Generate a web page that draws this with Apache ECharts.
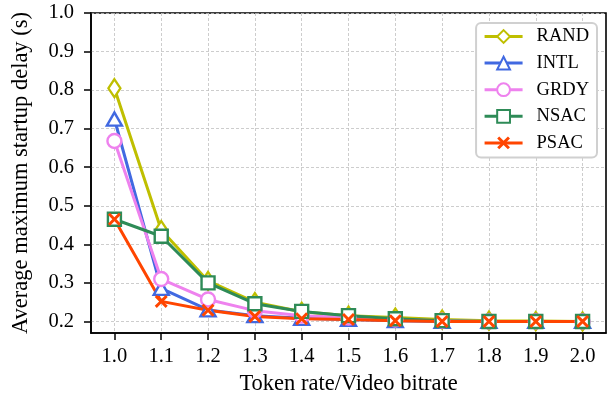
<!DOCTYPE html>
<html>
<head>
<meta charset="utf-8">
<script src="https://cdn.jsdelivr.net/npm/echarts@6/dist/echarts.min.js"></script>
<style>
  html, body { margin: 0; padding: 0; background: #fff; }
  #chart { width: 615px; height: 402px; }
</style>
</head>
<body>
<div id="chart"></div>
<script>
// Ratio of token rate to video bitrate (x) and tick values
const ratios = [1.0, 1.1, 1.2, 1.3, 1.4, 1.5, 1.6, 1.7, 1.8, 1.9, 2.0];
const xTicks = [1.0, 1.1, 1.2, 1.3, 1.4, 1.5, 1.6, 1.7, 1.8, 1.9, 2.0];
const yTicks = [0.2, 0.3, 0.4, 0.5, 0.6, 0.7, 0.8, 0.9, 1.0];

// Average maximum startup delay (s) per scheme
const randDelay = [0.805, 0.437, 0.305, 0.250, 0.225, 0.215, 0.210, 0.205, 0.202, 0.201, 0.200];
const intlDelay = [0.725, 0.286, 0.230, 0.215, 0.208, 0.205, 0.202, 0.200, 0.200, 0.200, 0.200];
const grdyDelay = [0.668, 0.310, 0.257, 0.228, 0.215, 0.210, 0.205, 0.202, 0.200, 0.200, 0.200];
const nsacDelay = [0.465, 0.421, 0.300, 0.246, 0.226, 0.215, 0.207, 0.202, 0.200, 0.200, 0.200];
const psacDelay = [0.465, 0.252, 0.229, 0.213, 0.207, 0.205, 0.202, 0.200, 0.200, 0.200, 0.200];

const FONT = 'Liberation Serif';
const crossPath = 'path://M0,1.6L1.6,0L5,3.4L8.4,0L10,1.6L6.6,5L10,8.4L8.4,10L5,6.6L1.6,10L0,8.4L3.4,5Z';

function pairs(ys) { return ratios.map((x, i) => [x, ys[i]]); }

function lineSeries(name, ys, color, symbol, size, filled) {
  return {
    name: name,
    type: 'line',
    data: pairs(ys),
    symbol: symbol,
    symbolSize: size,
    showAllSymbol: true,
    lineStyle: { color: color, width: 3 },
    itemStyle: filled
      ? { color: color, borderWidth: 0 }
      : { color: '#fff', borderColor: color, borderWidth: 2.4 },
    emphasis: { disabled: true },
    animation: false
  };
}

const chart = echarts.init(document.getElementById('chart'), null, { renderer: 'canvas' });
chart.setOption({
  animation: false,
  backgroundColor: '#fff',
  textStyle: { fontFamily: FONT },
  grid: {
    left: 91, right: 9, top: 13, bottom: 69,
    show: true, borderColor: '#000', borderWidth: 1.6, backgroundColor: 'transparent'
  },
  legend: {
    orient: 'vertical',
    right: 18, top: 23,
    padding: [4, 8, 5, 7],
    itemWidth: 38, itemHeight: 16, itemGap: 7.6,
    backgroundColor: '#fff',
    borderColor: '#d0d0d0', borderWidth: 2, borderRadius: 5,
    lineStyle: { width: 3 },
    textStyle: { fontFamily: FONT, fontSize: 18.5, color: '#000', lineHeight: 16, padding: [0, 0, 0, 9] },
    data: ['RAND', 'INTL', 'GRDY', 'NSAC', 'PSAC']
  },
  xAxis: {
    type: 'value',
    min: 0.95, max: 2.05, splitNumber: 11,
    name: 'Token rate/Video bitrate',
    nameLocation: 'middle', nameGap: 40,
    nameTextStyle: { fontFamily: FONT, fontSize: 22.5, color: '#000' },
    axisLine: { show: true, onZero: false, lineStyle: { color: '#000', width: 1.6 } },
    axisTick: { show: true, customValues: xTicks, length: 7, lineStyle: { color: '#000', width: 1.5 } },
    axisLabel: {
      customValues: xTicks, margin: 13,
      fontFamily: FONT, fontSize: 20.5, color: '#000',
      formatter: v => v.toFixed(1)
    },
    splitLine: { show: true, lineStyle: { color: '#c0c0c0', type: [3, 2], width: 0.8 } }
  },
  yAxis: {
    type: 'value',
    min: 0.17, max: 1.0, splitNumber: 8,
    name: 'Average maximum startup delay (s)',
    nameLocation: 'middle', nameGap: 58,
    nameTextStyle: { fontFamily: FONT, fontSize: 22.5, color: '#000' },
    axisLine: { show: true, onZero: false, lineStyle: { color: '#000', width: 1.6 } },
    axisTick: { show: true, customValues: yTicks, length: 7, lineStyle: { color: '#000', width: 1.5 } },
    axisLabel: {
      customValues: yTicks, margin: 17,
      fontFamily: FONT, fontSize: 20.5, color: '#000',
      formatter: v => v.toFixed(1)
    },
    splitLine: { show: true, lineStyle: { color: '#c0c0c0', type: [3, 2], width: 0.8 } }
  },
  series: [
    lineSeries('RAND', randDelay, '#bfbf00', 'diamond', [12, 18], false),
    lineSeries('INTL', intlDelay, '#4169e1', 'triangle', [15, 13], false),
    lineSeries('GRDY', grdyDelay, '#ee82ee', 'circle', 14, false),
    lineSeries('NSAC', nsacDelay, '#2e8b57', 'rect', 13, false),
    lineSeries('PSAC', psacDelay, '#ff4500', crossPath, 13, true)
  ]
});
</script>
</body>
</html>
